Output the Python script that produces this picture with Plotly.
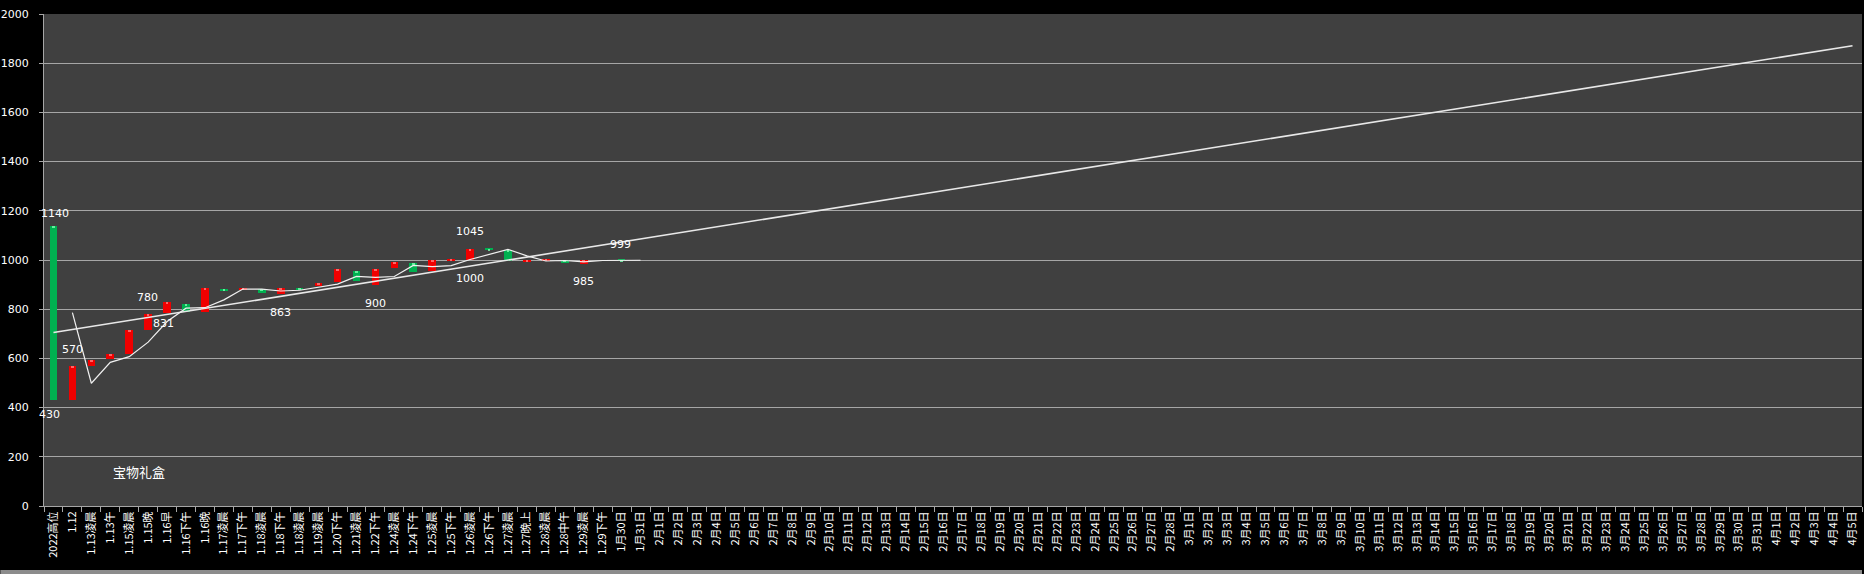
import plotly.graph_objects as go

# ---------------- data ----------------
jan_labels = ["2022高位", "1.12", "1.13凌晨", "1.13午", "1.15凌晨", "1.15晚", "1.16早", "1.16下午",
              "1.16晚", "1.17凌晨", "1.17下午", "1.18凌晨", "1.18下午", "1.18凌晨", "1.19凌晨",
              "1.20下午", "1.21凌晨", "1.22下午", "1.24凌晨", "1.24下午", "1.25凌晨", "1.25下午",
              "1.26凌晨", "1.26下午", "1.27凌晨", "1.27晚上", "1.28凌晨", "1.28中午", "1.29凌晨",
              "1.29下午", "1月30日", "1月31日"]
feb_labels = [f"2月{d}日" for d in range(1, 29)]
mar_labels = [f"3月{d}日" for d in range(1, 32)]
apr_labels = [f"4月{d}日" for d in range(1, 6)]
categories = jan_labels + feb_labels + mar_labels + apr_labels

open_vals = [430, 570, 595, 617, 715, 780, 829, 790, 886, 876, 887, 864, 886, 882, 908, 962,
             915, 965, 990, 952, 998, 1002, 1045, 1043, 995, 1000, 1001, 987, 1000, None, 998, None]
close_vals = [1140, 430, 570, 597, 616, 716, 784, 822, 790, 884, 880, 882, 863, 886, 893, 910,
              955, 900, 968, 988, 955, 999, 1000, 1046, 1042, 991, 999, 1000, 985, None, 999, None]

# 2-point moving average line (starts at index 1)
ma_vals = [None, 786, 499, 584, 607, 666, 750, 804, 806, 838, 882, 882, 874, 877, 890, 902,
           933, 929, 933, 978, 973, 977, 1002, 1022, 1043, 1017, 996, 998, 992, 998, 999, 999]

# linear trend line end values (first and last category)
trend_start = 705
trend_end = 1871

# data labels: (category index, value text)
label_idx = [0, 0, 1, 5, 6, 12, 17, 22, 22, 28, 30]
label_val = [1140, 430, 570, 780, 831, 863, 900, 1045, 1000, 985, 999]
label_dx = [2, -4, 0, -1, -4, 0, 0, 0, 0, 0, -1]
label_dy = [12, -14, 16, 17, -22, -19, -19, 17, -18, -18, 16]

note_text = "宝物礼盒"

# ---------------- figure ----------------
GREEN = "#00B050"
RED = "#F00000"
GRID = "#A6A6A6"

n = len(categories)
xs = list(range(n))

bx, bbase, bh, bcol, tip_base = [], [], [], [], []
for i, (o, c) in enumerate(zip(open_vals, close_vals)):
    if o is None or c is None:
        continue
    lo, hi = min(o, c), max(o, c)
    bx.append(i)
    bbase.append(lo)
    bh.append(max(hi - lo, 3))
    bcol.append(GREEN if c >= o else RED)
    tip_base.append(lo + max(hi - lo, 3))

fig = go.Figure()

fig.add_trace(go.Bar(x=bx, y=bh, base=bbase, width=0.4,
                     marker=dict(color=bcol, line=dict(width=0)),
                     hoverinfo="skip", showlegend=False))

# small light tip at the top of each body
fig.add_trace(go.Bar(x=bx, y=[6] * len(bx), base=[t - 6 for t in tip_base], width=0.14,
                     marker=dict(color=["#7DFFB0" if col == GREEN else "#FF8080" for col in bcol],
                                 line=dict(width=0)),
                     opacity=0.8, hoverinfo="skip", showlegend=False))

fig.add_trace(go.Scatter(x=[0, n - 1], y=[trend_start, trend_end], mode="lines",
                         line=dict(color="#E8E8E8", width=1.6),
                         hoverinfo="skip", showlegend=False))

fig.add_trace(go.Scatter(x=xs[:len(ma_vals)], y=ma_vals, mode="lines",
                         line=dict(color="#F0F0F0", width=1.2),
                         connectgaps=False, hoverinfo="skip", showlegend=False))

for i, v, dx, dy in zip(label_idx, label_val, label_dx, label_dy):
    fig.add_annotation(x=i, y=v, text=str(v), showarrow=False, xshift=dx, yshift=dy,
                       font=dict(color="white", size=11, family="DejaVu Sans"))

fig.add_annotation(x=4.5, y=141, text=note_text, showarrow=False,
                   font=dict(color="white", size=13, family="Noto Sans CJK SC"))

# bottom scroll-bar strip (as in the screenshot)
fig.add_shape(type="rect", xref="paper", yref="paper", x0=-0.024, x1=1.0, y0=-0.139, y1=-0.130,
              fillcolor="#8C8C8C", line=dict(width=0), layer="above")

fig.update_layout(
    width=1864, height=574,
    margin=dict(l=44, r=2, t=14, b=68),
    paper_bgcolor="#000000",
    plot_bgcolor="#404040",
    barmode="overlay",
    bargap=0,
    showlegend=False,
    hovermode=False,
    font=dict(family="DejaVu Sans", color="white"),
)

fig.update_yaxes(range=[0, 2000], tickmode="array", tickvals=list(range(0, 2001, 200)),
                 automargin=False, ticklabeloverflow="allow",
                 showgrid=True, gridcolor=GRID, gridwidth=1, zeroline=False,
                 showline=True, linecolor=GRID, linewidth=1,
                 ticks="outside", ticklen=4, tickcolor=GRID, ticklabelstandoff=8,
                 tickfont=dict(color="white", size=11, family="DejaVu Sans"))

fig.update_xaxes(range=[-0.5, n - 0.5], tickmode="array", tickvals=xs, ticktext=categories,
                 automargin=False,
                 tickangle=-90, ticks="", showgrid=False, zeroline=False,
                 showline=True, linecolor=GRID, linewidth=1,
                 tickfont=dict(color="white", size=11, family="Noto Sans CJK SC"),
                 minor=dict(tick0=0.5, dtick=1, ticks="outside", ticklen=5, tickcolor=GRID,
                            showgrid=False))

# remove the browser's default 8px body margin so the figure sits at the page corner
fig.write_html("out.html",
               config={"displayModeBar": False},
               post_script="document.body.style.margin='0';document.body.style.background='#000';")
